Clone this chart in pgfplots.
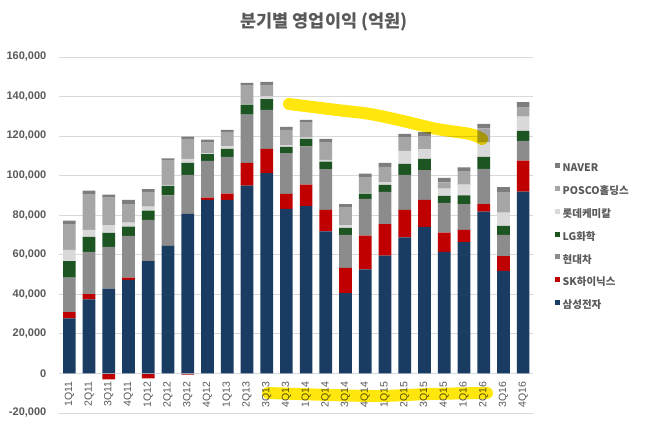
\documentclass[border=0pt]{standalone}
\usepackage{pgfplots}
\pgfplotsset{compat=1.18}
\usepackage{pgfplotstable}
\usepackage{fontspec}
\setmainfont{Noto Sans CJK KR}
\newfontfamily\arial{Liberation Sans}
\definecolor{labelgray}{RGB}{89,89,89}
\definecolor{gridgray}{RGB}{217,217,217}
\definecolor{zerogray}{RGB}{212,218,228}
\definecolor{csam}{RGB}{26,60,99}
\definecolor{csk}{RGB}{192,0,0}
\definecolor{chy}{RGB}{140,140,140}
\definecolor{clg}{RGB}{28,84,34}
\definecolor{clotte}{RGB}{217,217,217}
\definecolor{cposco}{RGB}{166,166,166}
\definecolor{cnaver}{RGB}{125,125,125}
\definecolor{hl}{RGB}{255,230,0}

\pgfplotstableread{
idx samsung sk hyundai lg lotte posco naver
0  27800 3200 17400 8400 5600 13100 1700
1  37400 2700 21300 7600 3500 17900 2000
2  42800 0    21100 7100 4000 13900 1500
3  47200 1200 21100 4700 2000 9400  2100
4  56800 0    20800 4700 2000 7400  1500
5  64400 0    25600 4800 500  12300 1100
6  80600 0    19700 6100 2000 10100 1200
7  87700 1200 18500 3500 300  5500  1500
8  87700 3200 18500 4100 1300 7300  1000
9  94900 11500 24400 5100 300 9300  1400
10 101200 12300 19700 5400 1500 5700 1600
11 83100 7600 20700 3100 800  7800  1500
12 84600 10800 19400 3700 700 7600  1300
13 71800 10800 20600 3900 800 8800  1800
14 40500 12800 16700 3500 1400 8900 1800
15 52600 17000 18600 2700 300 7800  2000
16 59500 16000 16200 3600 1300 7800 2000
17 68800 13800 17700 5600 6600 6700 1900
18 74000 13700 15100 5600 4900 6700 1900
19 61400 9700 15100 3500 3700 3200  2200
20 66400 6100 13100 4400 5400 6600  2200
21 81800 3800 17800 6000 7300 7100  2300
22 51800 7500 10700 4500 6800 10100 2700
23 91900 15700 9900 5100 7200 4600  2700
}\datatable

\pgfplotstableread{
idx skneg
2 -3000
4 -2500
6 -600
}\negtable

\begin{document}
\begin{tikzpicture}
\useasboundingbox[fill=white] (0,0) rectangle (648pt,428pt);
\begin{axis}[
  at={(59.5pt,15.1pt)}, anchor=south west,
  scale only axis, width=473.5pt, height=356pt,
  hide axis,
  ybar, bar width=12.7pt, bar shift=0pt,
  xmin=-0.5, xmax=23.5, ymin=-20000, ymax=160000,
]
\addplot[fill=csk, draw=none] table[x=idx, y=skneg] {\negtable};
\end{axis}
\begin{axis}[
  at={(59.5pt,15.1pt)}, anchor=south west,
  scale only axis, width=473.5pt, height=356pt,
  ybar stacked, bar width=12.7pt,
  xmin=-0.5, xmax=23.5, ymin=-20000, ymax=160000,
  axis x line=middle, axis y line=left,
  every inner x axis line/.append style={-},
  x axis line style={-, draw=zerogray, line width=0.75pt},
  y axis line style={draw=none},
  ytick={-20000,0,20000,40000,60000,80000,100000,120000,140000,160000},
  xtick={0,...,23},
  xticklabels={1Q11,2Q11,3Q11,4Q11,1Q12,2Q12,3Q12,4Q12,1Q13,2Q13,3Q13,4Q13,1Q14,2Q14,3Q14,4Q14,1Q15,2Q15,3Q15,4Q15,1Q16,2Q16,3Q16,4Q16},
  major tick length=0pt,
  ymajorgrids, major grid style={draw=gridgray, line width=0.75pt},
  yticklabel style={font=\arial\fontsize{11}{13}\selectfont\bfseries, text=labelgray, inner sep=0pt, anchor=east, xshift=-13pt},
  xticklabel style={font=\arial\fontsize{10.5}{12}\selectfont, text=labelgray, rotate=90, anchor=east, inner sep=0pt},
  xticklabel shift=8pt,
  scaled y ticks=false,
  /pgf/number format/.cd, fixed, 1000 sep={,}, assume math mode=true,
  /pgfplots/.cd,
  reverse legend,
  legend cell align=left,
  legend style={at={(1.0465,0.702)}, anchor=north west, draw=none, fill=none, inner sep=0pt,
    row sep=12pt, column sep=2.5pt,
    nodes={inner sep=0pt, text height=8pt, text depth=2pt, font=\fontsize{10.5}{12}\selectfont\bfseries, text=labelgray}},
  every axis plot post/.append style={legend image code/.code={\fill[##1] (0pt,0.8pt) rectangle (5pt,5.8pt);}},
]
\addplot[fill=csam, draw=none] table[x=idx, y=samsung] {\datatable};
\addlegendentry{삼성전자}
\addplot[fill=csk, draw=none] table[x=idx, y=sk] {\datatable};
\addlegendentry{SK하이닉스}
\addplot[fill=chy, draw=none] table[x=idx, y=hyundai] {\datatable};
\addlegendentry{현대차}
\addplot[fill=clg, draw=none] table[x=idx, y=lg] {\datatable};
\addlegendentry{LG화학}
\addplot[fill=clotte, draw=none] table[x=idx, y=lotte] {\datatable};
\addlegendentry{롯데케미칼}
\addplot[fill=cposco, draw=none] table[x=idx, y=posco] {\datatable};
\addlegendentry{POSCO홀딩스}
\addplot[fill=cnaver, draw=none] table[x=idx, y=naver] {\datatable};
\addlegendentry{NAVER}
\end{axis}
\node[font=\fontsize{17.5}{20}\selectfont\bfseries, text=labelgray] at (324pt,406pt) {분기별 영업이익 (억원)};
\begin{scope}[blend mode=multiply]
\draw[hl, line width=12pt, line cap=round, opacity=0.95] plot[smooth] coordinates {(289pt,324pt) (337pt,318pt) (370pt,314pt) (403pt,307pt) (437pt,299pt) (470pt,294pt) (482pt,289pt)};
\draw[hl, line width=12pt, line cap=round, opacity=0.95] plot[smooth] coordinates {(268pt,35pt) (330pt,33pt) (380pt,32pt) (430pt,34pt) (487pt,35pt)};
\end{scope}
\end{tikzpicture}
\end{document}
